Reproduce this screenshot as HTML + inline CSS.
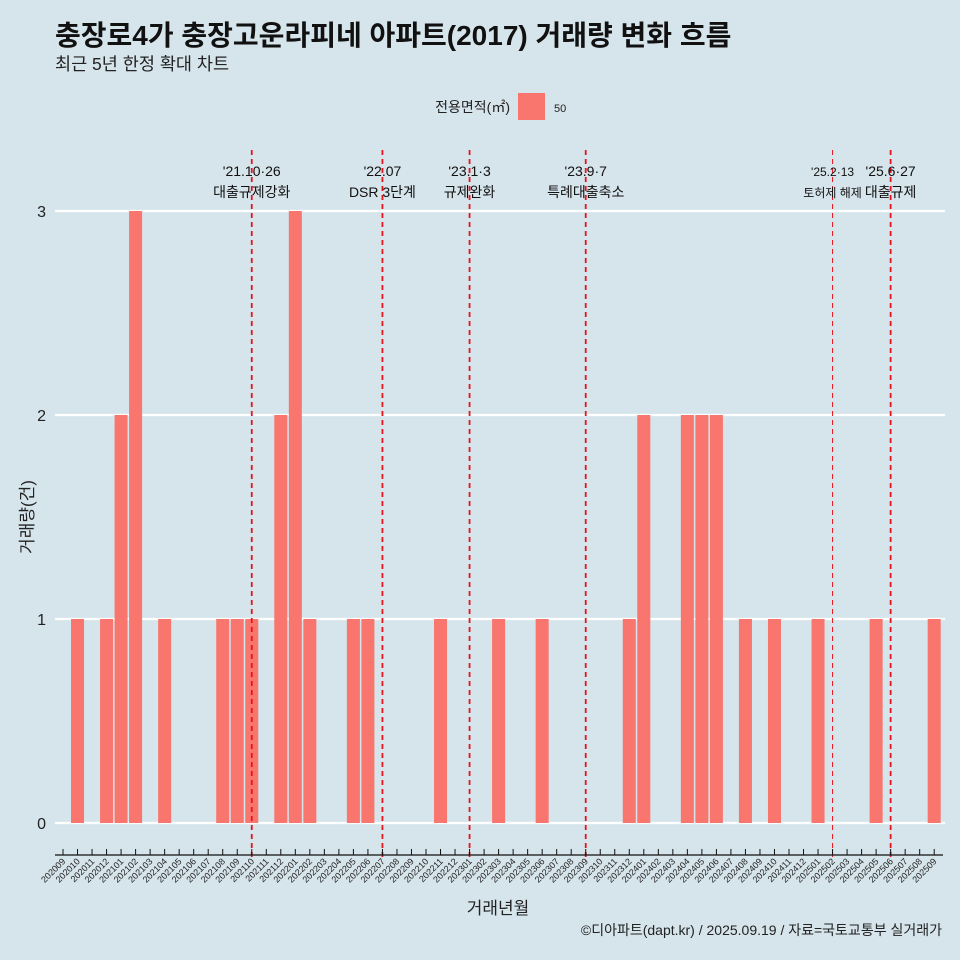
<!DOCTYPE html>
<html><head><meta charset="utf-8"><style>
body{margin:0;background:#d6e4eb;}
svg{display:block;font-family:"Liberation Sans","Noto Sans CJK KR",sans-serif;}
</style></head><body>
<svg id="chart" width="960" height="960">
<rect width="960" height="960" fill="#d6e4eb"/>
<text x="55" y="45" font-size="28" font-weight="bold" fill="#111">충장로4가 충장고운라피네 아파트(2017) 거래량 변화 흐름</text>
<text x="55" y="70" font-size="17.5" fill="#222">최근 5년 한정 확대 차트</text>
<g>
<text x="510" y="112" font-size="14" text-anchor="end" fill="#222">전용면적(㎡)</text>
<rect x="518" y="93" width="27" height="27" fill="#f8766d"/>
<text x="554" y="112" font-size="11" fill="#222">50</text>
</g>
<g id="grid"></g><g id="bars"></g><g id="events"></g><g id="xaxis"></g><g id="yaxis"></g>
<text x="498" y="914" font-size="17" text-anchor="middle" fill="#222">거래년월</text>
<text transform="translate(33,517) rotate(-90)" font-size="17" text-anchor="middle" fill="#222">거래량(건)</text>
<text x="942" y="935" font-size="14" text-anchor="end" fill="#222">©디아파트(dapt.kr) / 2025.09.19 / 자료=국토교통부 실거래가</text>
</svg>
<script>
const months = [];
for (let y = 2020, m = 9; !(y === 2025 && m === 10); m++) { if (m > 12) { m = 1; y++; } if (y === 2025 && m === 10) break; months.push(String(y) + String(m).padStart(2, '0')); }
const barMonths = ['202010','202012','202101','202102','202104','202108','202109','202110','202112','202201','202202','202205','202206','202211','202303','202306','202312','202401','202404','202405','202406','202408','202410','202501','202505','202509'];
const barValues = [1,1,2,3,1,1,1,1,2,3,1,1,1,1,1,1,1,2,2,2,2,1,1,1,1,1];
const yTicks = [0,1,2,3];
const eventMonths = ['202110','202207','202301','202309','202502','202506'];
const eventDates = ["'21.10·26","'22.07","'23.1·3","'23.9·7","'25.2·13","'25.6·27"];
const eventLabels = ['대출규제강화','DSR 3단계','규제완화','특례대출축소','토허제 해제','대출규제'];

const NS = 'http://www.w3.org/2000/svg';
const x = m => 63 + months.indexOf(m) * 14.52;
const y = v => 823 - v * 204;
function mk(tag, attrs, parent, txt) { const e = document.createElementNS(NS, tag); for (const k in attrs) e.setAttribute(k, attrs[k]); if (txt !== undefined) e.textContent = txt; document.getElementById(parent).appendChild(e); return e; }

yTicks.forEach(t => {
  const l = mk('line', {x1: 55, x2: 945, y1: y(t), y2: y(t), stroke: '#fff', 'stroke-width': 2.2}, 'grid');
  
  
  const tx = mk('text', {x: 46, y: y(t) + 6, 'font-size': 16, 'text-anchor': 'end', fill: '#222'}, 'yaxis', String(t));
  
  
});
barMonths.forEach((m, i) => {
  const r = mk('rect', {x: x(m) - 6.5, y: y(barValues[i]), width: 13, height: y(0) - y(barValues[i]), fill: '#f8766d'}, 'bars');
  
  
});
eventMonths.forEach((m, i) => {
  const thin = m === '202502';
  const l = mk('line', {x1: x(m), x2: x(m), y1: 150, y2: 858, stroke: '#e8141c', 'stroke-width': thin ? 1 : 1.8, 'stroke-dasharray': '5,4'}, 'events');
  
  
  const fs = thin ? 12 : 14;
  const d = mk('text', {x: x(m), y: 176, 'font-size': fs, 'text-anchor': 'middle', fill: '#111'}, 'events', eventDates[i]);
  
  
  const t = mk('text', {x: x(m), y: 197, 'font-size': fs, 'text-anchor': 'middle', fill: '#111'}, 'events', eventLabels[i]);
  
  
});
const ax = mk('line', {x1: 55, x2: 943, y1: 855, y2: 855, stroke: '#111', 'stroke-width': 1.2}, 'xaxis');


months.forEach(m => {
  const tk = mk('line', {x1: x(m), x2: x(m), y1: 849, y2: 855, stroke: '#111', 'stroke-width': 1}, 'xaxis');
  
  
  const lb = mk('text', {x: x(m) + 3, y: 862, 'font-size': 9, 'text-anchor': 'end', fill: '#222', transform: `rotate(-45 ${x(m) + 3} 862)`}, 'xaxis', m);
  
  
});
</script>
</body></html>
